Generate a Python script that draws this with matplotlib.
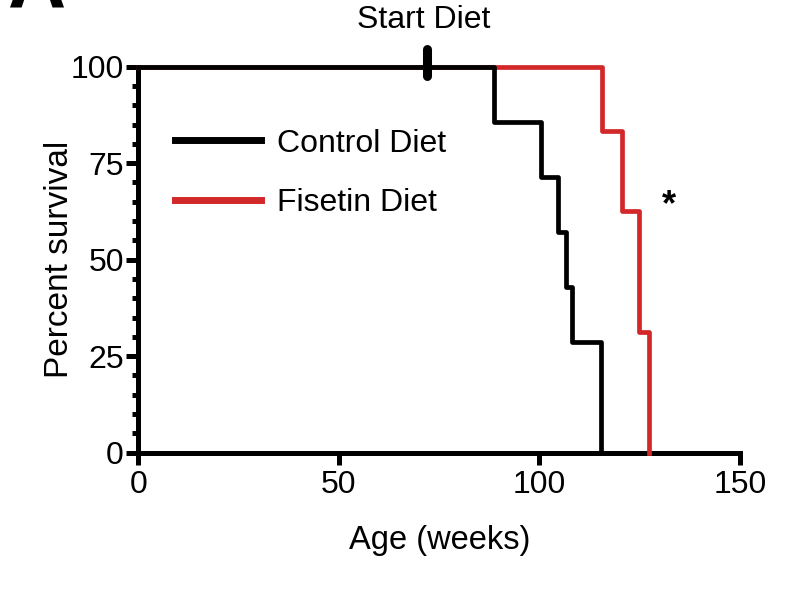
import matplotlib
matplotlib.use("Agg")
import matplotlib.pyplot as plt
from matplotlib.ticker import MultipleLocator

plt.rcParams['font.family'] = ['Liberation Sans', 'DejaVu Sans']

# Data (Kaplan-Meier steps)
control_weeks = [0, 88.7, 100.4, 104.6, 106.5, 108.2, 115.3]
control_survival = [100, 85.7, 71.4, 57.1, 42.9, 28.6, 0]
fisetin_weeks = [0, 115.7, 120.6, 124.8, 127.3]
fisetin_survival = [100, 83.3, 62.5, 31.25, 0]
start_diet_week = 72
series_labels = ["Control Diet", "Fisetin Diet"]
x_ticks = [0, 50, 100, 150]
y_ticks = [0, 25, 50, 75, 100]

fig = plt.figure(figsize=(7.87, 5.90), dpi=100)
ax = fig.add_axes([0.1759, 0.2327, 0.9403 - 0.1759, 0.887 - 0.2327])

red = '#d3282a'
lw = 3.4
ax.step(fisetin_weeks, fisetin_survival, where='post', color=red, lw=lw,
        label=series_labels[1], clip_on=False, zorder=3)
ax.step(control_weeks, control_survival, where='post', color='black', lw=lw,
        label=series_labels[0], clip_on=False, zorder=4)

# Start diet marker
ax.plot([start_diet_week, start_diet_week], [97.5, 104.5], color='black', lw=6.5,
        solid_capstyle='round', clip_on=False, zorder=5)
ax.text(start_diet_week - 0.8, 112.2, "Start Diet", ha='center', va='center', fontsize=23)

# significance asterisk
ax.text(132.2, 64.0, "*", ha='center', va='center', fontsize=26, fontweight='bold')

ax.set_xlim(0, 150)
ax.set_ylim(0, 100)
ax.set_xticks(x_ticks)
ax.set_yticks(y_ticks)
ax.yaxis.set_minor_locator(MultipleLocator(5))
for s in ['top', 'right']:
    ax.spines[s].set_visible(False)
for s in ['left', 'bottom']:
    ax.spines[s].set_linewidth(3.6)
ax.tick_params(axis='both', which='major', direction='out', width=3.6, length=8.5,
               labelsize=23)
ax.tick_params(axis='x', which='major', pad=4)
ax.tick_params(axis='y', which='major', pad=2)
ax.tick_params(axis='y', which='minor', direction='out', width=3.6, length=4.5)

ax.set_xlabel("Age (weeks)", fontsize=23.5, labelpad=18)
ax.set_ylabel("Percent survival", fontsize=24, labelpad=-3)

handles, labels = ax.get_legend_handles_labels()
order = [1, 0]
leg = ax.legend([handles[i] for i in order], [labels[i] for i in order],
                loc='upper left', bbox_to_anchor=(0.013, 0.914), frameon=False,
                fontsize=23, handlelength=2.7, handletextpad=0.5, labelspacing=0.92)
for line in leg.get_lines():
    line.set_linewidth(5)

# Panel letter (cut off at top)
fig.text(0.01, 0.9898, "A", fontsize=58, fontweight='bold', va='baseline', ha='left')

fig.savefig("out.png", dpi=100)
